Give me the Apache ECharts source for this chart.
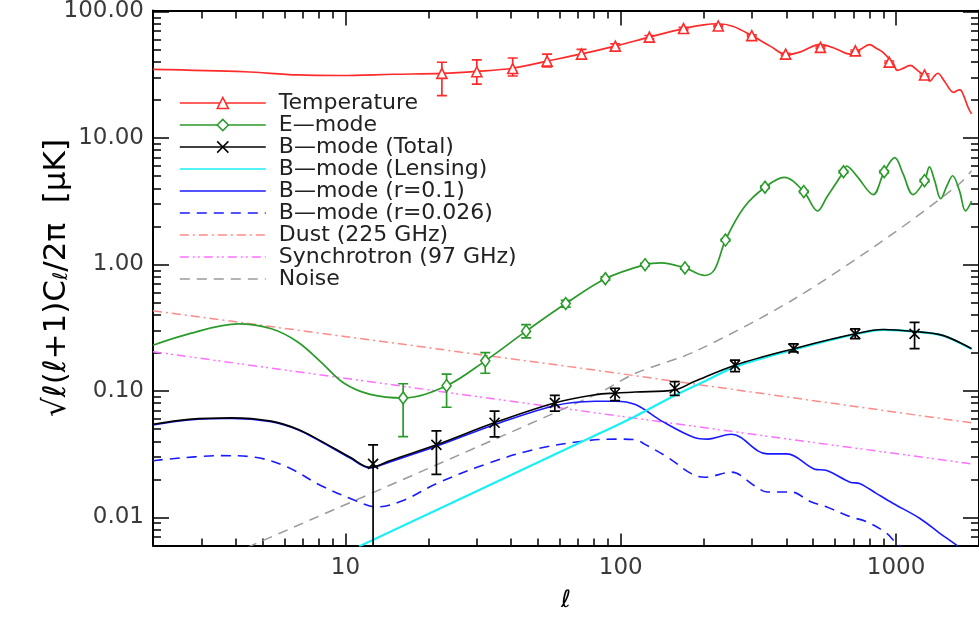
<!DOCTYPE html>
<html>
<head>
<meta charset="utf-8">
<script src="https://cdn.jsdelivr.net/npm/echarts@6/dist/echarts.min.js"></script>
<style>html,body{margin:0;padding:0;background:#fff}#chart{width:979px;height:618px}</style>
</head>
<body>
<div id="chart"></div>
<script>
// ---- axis ticks ----
const xMajorTicks = [10, 100, 1000];
const xMinorTicks = [2, 3, 4, 5, 6, 7, 8, 9, 20, 30, 40, 50, 60, 70, 80, 90,
  200, 300, 400, 500, 600, 700, 800, 900, 2000];
const yMajorTicks = [0.01, 0.1, 1, 10, 100];
const yMinorTicks = [0.006, 0.007, 0.008, 0.009,
  0.02, 0.03, 0.04, 0.05, 0.06, 0.07, 0.08, 0.09,
  0.2, 0.3, 0.4, 0.5, 0.6, 0.7, 0.8, 0.9,
  2, 3, 4, 5, 6, 7, 8, 9,
  20, 30, 40, 50, 60, 70, 80, 90];

// ---- model spectra [ell, value in uK] ----
const tempCurve = [[2, 34.9], [4.3, 33.4], [6.7, 31.5], [9.6, 31.2], [15, 31.9], [22.4, 32.4], [30, 33.6],
  [40.5, 35.6], [54, 40.5], [72, 46.2], [95.5, 53.3], [127, 62.7], [169, 73.3], [200, 78.5], [225, 80],
  [255, 76.5], [299, 64.5], [350, 53], [400, 45.5], [450, 48], [530, 55], [600, 51], [680, 46], [740, 50],
  [800, 54.7], [850, 51], [898, 47.4], [976, 38.7], [1010, 34.3], [1060, 35.5], [1124, 37.5], [1200, 34],
  [1282, 30.4], [1327, 28.1], [1370, 30.5], [1416, 32.5], [1500, 28], [1618, 22.9], [1690, 24],
  [1728, 23.6], [1833, 17.1], [1880, 15.5]];
const eCurve = [[2, 0.23], [2.7, 0.283], [4.08, 0.339], [5.38, 0.31], [6.71, 0.244], [8.13, 0.17], [9.89, 0.115],
  [12.3, 0.094], [16.2, 0.088], [23.3, 0.110], [32.2, 0.173], [45.3, 0.297], [63.1, 0.491], [87.9, 0.771],
  [122.5, 0.996], [140, 1.03], [171, 0.939], [202, 0.818], [219, 0.91], [240, 1.56], [281, 2.85], [334, 4.08],
  [392, 4.89], [462, 3.77], [519, 2.65], [560, 3.4], [644, 5.41], [661, 6.0], [720, 5.0], [826, 3.57],
  [905, 5.41], [989, 7.0], [1060, 5.2], [1151, 3.57], [1268, 4.6], [1321, 5.9], [1380, 4.6], [1452, 3.31],
  [1530, 4.2], [1604, 5.03], [1700, 3.8], [1786, 2.65], [1880, 3.17]];
const bTotalCurve = [[2, 0.0545], [2.7, 0.0596], [3.85, 0.0613], [5.37, 0.0577], [6.71, 0.0498], [8.13, 0.0403],
  [10.4, 0.0299], [12.3, 0.0249], [14.5, 0.0281], [21.4, 0.0375], [34.7, 0.056], [57.5, 0.0804],
  [80.9, 0.0934], [95.5, 0.0962], [113, 0.098], [157, 0.102], [185, 0.1187], [260, 0.160], [425, 0.216],
  [710, 0.283], [898, 0.306], [1167, 0.295], [1477, 0.275], [1880, 0.216]];
const bLensCurve = [[11.2, 0.0059], [80.9, 0.0446], [113, 0.0632], [157, 0.092], [200, 0.118], [260, 0.155],
  [425, 0.212], [710, 0.281], [898, 0.304], [1167, 0.294], [1477, 0.274], [1880, 0.215]];
const bR01Curve = [[2, 0.0538], [2.7, 0.059], [3.85, 0.0606], [5.37, 0.057], [6.71, 0.0493], [8.13, 0.0398],
  [10.4, 0.0295], [12.3, 0.0246], [14.5, 0.0275], [21.4, 0.0365], [34.7, 0.054], [57.5, 0.0765],
  [80.9, 0.0828], [95.5, 0.083], [113, 0.078], [141, 0.0577], [185, 0.0428], [207, 0.0416], [252, 0.0455],
  [340, 0.0318], [402, 0.0318], [503, 0.0242], [560, 0.0235], [681, 0.019], [740, 0.0185], [847, 0.0155],
  [976, 0.0129], [1217, 0.00986], [1437, 0.00753], [1648, 0.0061], [1800, 0.0052]];
const bR0026Curve = [[2, 0.0281], [3.55, 0.0308], [4.7, 0.0299], [6.18, 0.0249], [8.13, 0.0179], [10.8, 0.0137],
  [13, 0.0121], [16.3, 0.0137], [21.4, 0.0185], [32.5, 0.0265], [49.2, 0.0347], [74.5, 0.0403],
  [95.5, 0.0416], [113, 0.0412], [122, 0.038], [148, 0.0299], [181, 0.0221], [202, 0.0208], [253, 0.0228],
  [305, 0.0179], [340, 0.0159], [415, 0.0159], [490, 0.0133], [560, 0.0121], [683, 0.0101], [780, 0.00927],
  [921, 0.00753], [1000, 0.00629], [1080, 0.0055]];
const dustCurve = [[2, 0.431], [80.9, 0.146], [1880, 0.056]];
const syncCurve = [[2, 0.204], [80.9, 0.0671], [1880, 0.0265]];
const noiseCurve = [[4.4, 0.0058], [80.9, 0.0934], [113, 0.138], [185, 0.204], [425, 0.531], [976, 1.76],
  [1694, 4.33], [1880, 5.5]];

// ---- binned band powers [ell, value, low, high] ----
const tempPoints = [[22.4, 32.4, 21.6, 39.7], [30, 33.4, 26.7, 41.4], [40.5, 35.4, 30.9, 42.9],
  [54, 40.5, 36.5, 46.0], [72, 46.0, 42.2, 50.2], [95.5, 53.2, 51.1, 55.4], [127, 62.7, 60.8, 64.6],
  [169, 73.3, 71.8, 74.8], [226, 76.8, 75.5, 78.1], [299, 64.4, 63.4, 65.4], [397, 46.0, 45.3, 46.7],
  [531, 52.0, 51.2, 52.8], [711, 48.8, 48.0, 49.6], [944, 39.8, 39.0, 40.6], [1268, 31.5, 30.8, 32.2]];
const ePoints = [[16.2, 0.088, 0.0435, 0.114], [23.3, 0.110, 0.0743, 0.136], [32.2, 0.173, 0.138, 0.201],
  [45.3, 0.297, 0.263, 0.335], [63.1, 0.491, 0.46, 0.52], [87.9, 0.771, 0.75, 0.80], [122.5, 0.996, 0.975, 1.02],
  [171, 0.939, 0.92, 0.96], [240, 1.56, 1.53, 1.59], [334, 4.08, 4.0, 4.16], [462, 3.77, 3.7, 3.84],
  [644, 5.41, 5.3, 5.52], [905, 5.41, 5.3, 5.52], [1268, 4.60, 4.5, 4.7]];
const bPoints = [[12.6, 0.0265, 0.001, 0.0375], [21.4, 0.0375, 0.0219, 0.0483], [34.8, 0.056, 0.0433, 0.0692],
  [57.6, 0.0804, 0.0692, 0.0922], [95.3, 0.096, 0.0838, 0.105], [157, 0.105, 0.0922, 0.1187],
  [260, 0.160, 0.142, 0.175], [424, 0.216, 0.204, 0.236], [710, 0.283, 0.259, 0.310],
  [1167, 0.283, 0.216, 0.349]];

const FONT = 'DejaVu Sans';
const RED = '#ff2b2b', GREEN = '#2a9a2a', BLACK = '#000000', CYAN = '#19f0f5', BLUE = '#1a1aff',
  DUST = '#ff8a8a', SYNC = '#ff70ff', NOISE = '#9a9a9a';
const X_SYMBOL = 'path://M0,0L10,10M10,0L0,10';

function curve(name, data, color, width, dash, z, smooth) {
  return {
    type: 'line', name: name, data: data, xAxisIndex: 0, yAxisIndex: 0,
    symbol: 'none', showSymbol: false, smooth: smooth, z: z, silent: true,
    lineStyle: { color: color, width: width, type: dash },
    itemStyle: { color: color }
  };
}

function errorBars(data, color, z) {
  return {
    type: 'custom', data: data, xAxisIndex: 0, yAxisIndex: 0, z: z, clip: true, silent: true,
    encode: { x: 0, y: [2, 3] },
    renderItem: function (params, api) {
      const x = api.value(0);
      const lo = api.coord([x, api.value(2)]);
      const hi = api.coord([x, api.value(3)]);
      const w = 5;
      const st = { stroke: color, lineWidth: 1.7 };
      return {
        type: 'group', children: [
          { type: 'line', shape: { x1: lo[0], y1: lo[1], x2: hi[0], y2: hi[1] }, style: st },
          { type: 'line', shape: { x1: lo[0] - w, y1: lo[1], x2: lo[0] + w, y2: lo[1] }, style: st },
          { type: 'line', shape: { x1: hi[0] - w, y1: hi[1], x2: hi[0] + w, y2: hi[1] }, style: st }
        ]
      };
    }
  };
}

function points(data, symbol, size, color, fill, z) {
  return {
    type: 'scatter', data: data, xAxisIndex: 0, yAxisIndex: 0, z: z, silent: true,
    encode: { x: 0, y: 1 }, symbol: symbol, symbolSize: size,
    itemStyle: { color: fill, borderColor: color, borderWidth: 1.6, opacity: 1 }
  };
}

const tempSeries = curve('Temperature', tempCurve, RED, 1.7, 'solid', 9, 0.35);
const eSeries = curve('E—mode', eCurve, GREEN, 1.7, 'solid', 8, 0.35);
const bSeries = curve('B—mode (Total)', bTotalCurve, BLACK, 1.6, 'solid', 7, 0.35);
tempSeries.symbol = 'triangle';
eSeries.symbol = 'diamond';
bSeries.symbol = X_SYMBOL;

const series = [
  curve('Dust (225 GHz)', dustCurve, DUST, 1.5, [9, 4, 2, 4], 2, false),
  curve('Synchrotron (97 GHz)', syncCurve, SYNC, 1.5, [9, 4, 2, 3, 2, 4], 2, false),
  curve('Noise', noiseCurve, NOISE, 1.5, [10, 7], 2, 0.3),
  curve('B—mode (r=0.026)', bR0026Curve, BLUE, 1.6, [10, 7], 3, 0.35),
  curve('B—mode (r=0.1)', bR01Curve, BLUE, 1.6, 'solid', 4, 0.35),
  curve('B—mode (Lensing)', bLensCurve, CYAN, 2.2, 'solid', 5, 0.3),
  bSeries, eSeries, tempSeries,
  errorBars(bPoints, BLACK, 10),
  errorBars(ePoints, GREEN, 10),
  errorBars(tempPoints, RED, 10),
  points(bPoints, X_SYMBOL, 10, BLACK, 'rgba(0,0,0,0)', 11),
  points(ePoints, 'diamond', [9, 12], GREEN, '#ffffff', 11),
  points(tempPoints, 'triangle', [10, 10], RED, '#ffffff', 11)
];

const legendNames = ['Temperature', 'E—mode', 'B—mode (Total)', 'B—mode (Lensing)', 'B—mode (r=0.1)',
  'B—mode (r=0.026)', 'Dust (225 GHz)', 'Synchrotron (97 GHz)', 'Noise'];
const markerLegend = {
  'Temperature': { color: '#ffffff', borderColor: RED, borderWidth: 1.5 },
  'E—mode': { color: '#ffffff', borderColor: GREEN, borderWidth: 1.5 },
  'B—mode (Total)': { color: 'rgba(0,0,0,0)', borderColor: BLACK, borderWidth: 1.5 }
};
const legendData = legendNames.map(function (n) {
  return { name: n, itemStyle: markerLegend[n] || { opacity: 0 } };
});

const frameLine = { show: true, lineStyle: { color: '#000', width: 2 } };
const tickStyle = { color: '#000', width: 1.5 };
const labelStyle = { fontFamily: FONT, fontSize: 23, color: '#3a3a3a' };

function xAxis(pos, ticks, len, labels, line) {
  return {
    type: 'log', logBase: 10, min: 2, max: 2000, position: pos, gridIndex: 0,
    axisLine: line ? frameLine : { show: false },
    axisTick: { show: true, inside: true, length: len, lineStyle: tickStyle, customValues: ticks },
    axisLabel: labels ? { show: true, margin: 11, customValues: ticks, formatter: function (v) { return String(Math.round(v)); }, ...labelStyle } : { show: false },
    splitLine: { show: false }, minorTick: { show: false }
  };
}
function yAxis(pos, ticks, len, labels, line) {
  return {
    type: 'log', logBase: 10, min: 0.006, max: 102, position: pos, gridIndex: 0,
    axisLine: line ? frameLine : { show: false },
    axisTick: { show: true, inside: true, length: len, lineStyle: tickStyle, customValues: ticks },
    axisLabel: labels ? { show: true, margin: 9, customValues: ticks, formatter: function (v) { return v.toFixed(2); }, ...labelStyle } : { show: false },
    splitLine: { show: false }, minorTick: { show: false }
  };
}

const xAxes = [
  xAxis('bottom', xMajorTicks, 12, true, true),
  xAxis('bottom', xMinorTicks, 7, false, false),
  xAxis('top', xMajorTicks, 15, false, true),
  xAxis('top', xMinorTicks, 8, false, false)
];
xAxes[0].name = 'ℓ';
xAxes[0].nameLocation = 'middle';
xAxes[0].nameGap = 43;
xAxes[0].nameMoveOverlap = false;
xAxes[0].nameTextStyle = { fontFamily: FONT, fontSize: 24, fontStyle: 'italic', color: '#000' };

const yAxes = [
  yAxis('left', yMajorTicks, 16, true, true),
  yAxis('left', yMinorTicks, 8, false, false),
  yAxis('right', yMajorTicks, 16, false, true),
  yAxis('right', yMinorTicks, 8, false, false)
];
yAxes[0].name = '√ℓ(ℓ+1)C{s|ℓ}/2π  [μK]';
yAxes[0].nameLocation = 'middle';
yAxes[0].nameRotate = 90;
yAxes[0].nameGap = 81;
yAxes[0].nameMoveOverlap = false;
yAxes[0].nameTextStyle = {
  fontFamily: FONT, fontSize: 31, color: '#000',
  rich: { s: { fontFamily: FONT, fontSize: 20, color: '#000', verticalAlign: 'bottom', padding: [11, 0, 0, 0] } }
};

const chart = echarts.init(document.getElementById('chart'), null, { renderer: 'canvas' });
chart.setOption({
  animation: false,
  backgroundColor: '#ffffff',
  grid: { left: 153, top: 4, width: 831, height: 541.5, containLabel: false },
  legend: {
    show: true, orient: 'vertical', left: 179, top: 92, padding: 0,
    itemWidth: 86, itemHeight: 14, itemGap: 0, selectedMode: false,
    lineStyle: { width: 1.6 },
    textStyle: { fontFamily: FONT, fontSize: 22, color: '#222', lineHeight: 20, padding: [0, 0, 0, 8] },
    data: legendData
  },
  xAxis: xAxes,
  yAxis: yAxes,
  series: series
});
</script>
</body>
</html>
